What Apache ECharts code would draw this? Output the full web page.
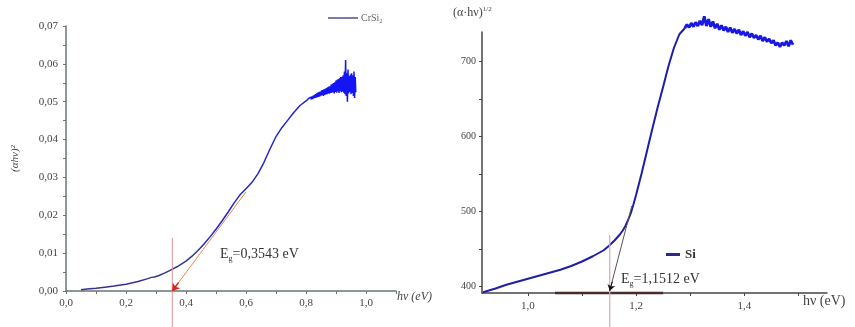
<!DOCTYPE html>
<html><head><meta charset="utf-8">
<script src="https://cdn.jsdelivr.net/npm/echarts@6/dist/echarts.min.js"></script>
<style>html,body{margin:0;padding:0;background:#fff}#c{width:855px;height:327px}</style>
</head><body><div id="c"></div>
<script>
// ---- CrSi2 (left panel) ----
const crsiX = [0.05,0.07,0.10,0.13,0.16,0.20,0.24,0.27,0.285,0.29,0.295,0.31,0.33,0.35,0.37,0.40,0.42,0.44,0.46,0.48,0.50,0.52,0.54,0.56,0.58,0.60,0.62,0.64,0.66,0.68,0.70,0.72,0.74,0.76,0.78,
0.800,0.802,0.804,0.806,0.808,0.810,0.812,0.814,0.816,0.818,0.820,0.822,0.824,0.826,0.828,0.830,0.832,0.834,0.836,0.838,0.840,0.842,0.844,0.846,0.848,0.850,0.852,0.854,0.856,0.858,0.860,0.862,0.864,0.866,0.868,0.870,0.872,0.874,0.876,0.878,0.880,0.882,0.884,0.886,0.888,0.890,0.892,0.894,0.896,0.898,0.900,0.902,0.904,0.906,0.908,0.910,0.912,0.914,0.916,0.918,0.920,0.922,0.924,0.926,0.928,0.930,0.932,0.934,0.936,0.938,0.940,0.942,0.944,0.946,0.948,0.950,0.952,0.954,0.956,0.958,0.960,0.962,0.964,0.966];
const crsiY = [0.0003,0.0005,0.0007,0.0010,0.0013,0.0018,0.0025,0.0032,0.0036,0.0040,0.0037,0.0041,0.0048,0.0056,0.0064,0.0079,0.0092,0.0107,0.0124,0.0143,0.0163,0.0185,0.0208,0.0232,0.0254,0.0270,0.0287,0.0310,0.0340,0.0375,0.0408,0.0432,0.0452,0.0472,0.0490,
0.0502,0.0498,0.0506,0.0501,0.0508,0.0503,0.0510,0.0504,0.0512,0.0506,0.0514,0.0507,0.0516,0.0509,0.0518,0.0510,0.0520,0.0511,0.0522,0.0512,0.0524,0.0513,0.0526,0.0514,0.0527,0.0516,0.0530,0.0517,0.0531,0.0515,0.0533,0.0518,0.0534,0.0519,0.0536,0.0520,0.0538,0.0522,0.0540,0.0521,0.0541,0.0523,0.0545,0.0524,0.0547,0.0525,0.0549,0.0522,0.0551,0.0526,0.0556,0.0524,0.0558,0.0527,0.0560,0.0523,0.0562,0.0528,0.0565,0.0525,0.0566,0.0527,0.0570,0.0524,0.0580,0.0520,0.0610,0.0515,0.0575,0.0500,0.0585,0.0522,0.0568,0.0526,0.0572,0.0520,0.0575,0.0523,0.0570,0.0515,0.0580,0.0510,0.0565,0.0525];
const egLeft = 0.3543;
const tangentLeftX = [0.3543, 0.60];
const tangentLeftY = [0.0, 0.0262];
const vlineLeftY = [-0.0095, 0.014];
const leftXTicks = [0,0.1,0.2,0.3,0.4,0.5,0.6,0.7,0.8,0.9,1.0,1.1];
const leftXLabels = [0,0.2,0.4,0.6,0.8,1.0];
const leftYTicks = [0,0.005,0.01,0.015,0.02,0.025,0.03,0.035,0.04,0.045,0.05,0.055,0.06,0.065,0.07];
const leftYLabels = [0,0.01,0.02,0.03,0.04,0.05,0.06,0.07];

// ---- Si (right panel) ----
const siSmoothX = [0.917,0.94,0.96,0.98,1.00,1.02,1.04,1.06,1.08,1.10,1.12,1.14,1.15,1.16,1.17,1.175,1.18,1.185,1.19,1.195,1.20,1.21,1.22,1.23,1.24,1.25,1.26,1.27,1.28,1.29];
const siSmoothY = [392,397,402,406,410,414,418,422,427,433,440,448,454,461,469,474,480,488,497,509,522,550,580,610,639,666,694,718,736,744];
const siNoisyX = [1.290,1.294,1.298,1.302,1.306,1.310,1.314,1.318,1.322,1.326,1.330,1.334,1.338,1.342,1.346,1.350,1.354,1.358,1.362,1.366,1.370,1.374,1.378,1.382,1.386,1.390,1.394,1.398,1.402,1.406,1.410,1.414,1.418,1.422,1.426,1.430,1.434,1.438,1.442,1.446,1.450,1.454,1.458,1.462,1.466,1.470,1.474,1.478,1.482,1.486,1.490];
const siNoisyY = [744,749,745,751,746,752,747,754,748,760,747,756,746,753,744,750,742,748,741,746,739,745,738,743,737,742,735,740,734,739,732,737,731,735,729,734,727,732,726,730,724,728,721,725,719,725,721,727,720,728,722];
const egRight = 1.1512;
const tangentRightX = [1.1512, 1.192];
const tangentRightY = [394, 507];
const vlineRightY = [345, 468];
const baseSegX = [1.05, 1.25];
const baseSegY = [391, 391];
const rightXTicks = [1.0,1.1,1.2,1.3,1.4,1.5];
const rightXLabels = [1.0,1.2,1.4];
const rightYTicks = [400,450,500,550,600,650,700];
const rightYLabels = [400,500,600,700];

const zip = (a,b) => a.map((v,i)=>[v,b[i]]);
const serif = '"Liberation Serif", "DejaVu Serif", serif';
const comma = d => v => v.toFixed(d).replace('.', ',');

const chart = echarts.init(document.getElementById('c'));
chart.setOption({
  animation: false,
  backgroundColor: '#fff',
  grid: [
    {left: 66, top: 26, width: 330, height: 265},
    {left: 482, top: 32, width: 345, height: 261}
  ],
  xAxis: [
    {gridIndex:0, type:'value', min:0, max:1.1,
     axisLine:{show:true, onZero:false, lineStyle:{color:'#6a7474', width:1.5}},
     axisTick:{show:true, customValues:leftXTicks, length:3, lineStyle:{color:'#6a7474'}},
     axisLabel:{customValues:leftXLabels, formatter:comma(1), fontFamily:serif, fontSize:11, color:'#444', margin:7},
     splitLine:{show:false}},
    {gridIndex:1, type:'value', min:0.915, max:1.553,
     axisLine:{show:true, onZero:false, lineStyle:{color:'#444', width:1.5}},
     axisTick:{show:true, customValues:rightXTicks, length:3, lineStyle:{color:'#444'}},
     axisLabel:{customValues:rightXLabels, formatter:comma(1), fontFamily:serif, fontSize:11, color:'#444', margin:8},
     splitLine:{show:false}}
  ],
  yAxis: [
    {gridIndex:0, type:'value', min:0, max:0.07,
     name:'(αhν)²', nameLocation:'middle', nameGap:45, nameRotate:90,
     nameTextStyle:{fontFamily:serif, fontStyle:'italic', fontSize:11, color:'#444'},
     axisLine:{show:true, onZero:false, lineStyle:{color:'#6a7474', width:1.5}},
     axisTick:{show:true, customValues:leftYTicks, length:3, lineStyle:{color:'#6a7474'}},
     axisLabel:{customValues:leftYLabels, formatter:comma(2), fontFamily:serif, fontSize:11, color:'#444', margin:8},
     splitLine:{show:false}},
    {gridIndex:1, type:'value', min:391, max:739,
     axisLine:{show:true, onZero:false, lineStyle:{color:'#444', width:1.5}},
     axisTick:{show:true, customValues:rightYTicks, length:3, lineStyle:{color:'#444'}},
     axisLabel:{customValues:rightYLabels, fontFamily:serif, fontSize:10, color:'#444', margin:6},
     splitLine:{show:false}}
  ],
  visualMap: [
    {type:'piecewise', show:false, seriesIndex:0, dimension:0,
     pieces:[{lt:0.45, color:'#34348c'},{gte:0.45, lt:0.8, color:'#2626c4'},{gte:0.8, color:'#1414f4'}]}
  ],
  legend: [
    {left:323, top:8, itemWidth:30, itemHeight:2, icon:'rect', itemGap:3,
     data:[{name:'CrSi₂', itemStyle:{color:'#7a7ab0'}}],
     textStyle:{fontFamily:serif, fontSize:10, color:'#666', padding:[0,0,0,-2]}},
    {left:661, top:243, itemWidth:14, itemHeight:3, icon:'rect', itemGap:3,
     data:[{name:'Si', itemStyle:{color:'#2a2a8a'}}],
     textStyle:{fontFamily:serif, fontSize:13, fontWeight:'bold', color:'#333'}}
  ],
  series: [
    {name:'CrSi₂', type:'line', xAxisIndex:0, yAxisIndex:0, data:zip(crsiX, crsiY),
     showSymbol:false, lineStyle:{width:1.5}},
    {type:'line', xAxisIndex:0, yAxisIndex:0, data:zip([egLeft, egLeft], vlineLeftY), clip:false,
     showSymbol:false, lineStyle:{color:'#d89494', width:1}},
    {type:'line', xAxisIndex:0, yAxisIndex:0, data:zip(tangentLeftX, tangentLeftY),
     showSymbol:false, lineStyle:{color:'#e08a4a', width:1}},
    {type:'line', xAxisIndex:0, yAxisIndex:0, data:zip(tangentLeftX, tangentLeftY), silent:true,
     showSymbol:false, lineStyle:{opacity:0},
     markLine:{silent:true, symbol:['none','arrow'], symbolSize:7, label:{show:false},
       lineStyle:{color:'#e02020', width:1.5, type:'solid'},
       data:[[{coord:[0.375, 0.0022]},{coord:[tangentLeftX[0], tangentLeftY[0]]}]]}},
    {type:'line', xAxisIndex:1, yAxisIndex:1, data:zip(baseSegX, baseSegY), clip:false,
     showSymbol:false, lineStyle:{color:'#4a2a2a', width:2.5}},
    {name:'Si', type:'line', xAxisIndex:1, yAxisIndex:1, data:zip(siSmoothX, siSmoothY), clip:false,
     showSymbol:false, lineStyle:{width:2, color:'#1e1ea6'}},
    {name:'Si', type:'line', xAxisIndex:1, yAxisIndex:1, data:zip(siNoisyX, siNoisyY), clip:false,
     showSymbol:false, lineStyle:{width:2.8, color:'#1818e0'}},
    {type:'line', xAxisIndex:1, yAxisIndex:1, data:zip([egRight, egRight], vlineRightY), clip:false,
     showSymbol:false, lineStyle:{color:'#d8aaaa', width:1.2}},
    {type:'line', xAxisIndex:1, yAxisIndex:1, data:zip(tangentRightX, tangentRightY),
     showSymbol:false, lineStyle:{color:'#555', width:1},
     markLine:{silent:true, symbol:['none','arrow'], symbolSize:6, label:{show:false},
       lineStyle:{color:'#111', width:1, type:'solid'},
       data:[[{coord:[1.156, 406]},{coord:[tangentRightX[0], tangentRightY[0]]}]]}}
  ],
  graphic: [
    {type:'text', left:397, top:291, style:{text:'hν (eV)', font:'italic 12px ' + serif, fill:'#444'}},
    {type:'text', left:803, top:294, style:{text:'hν (eV)', font:'14px ' + serif, fill:'#444'}},
    {type:'text', left:453, top:6, style:{
      text:'{a|(α·hν)}{s|1/2}', rich:{a:{fontFamily:serif, fontSize:12, fill:'#444'}, s:{fontFamily:serif, fontSize:7, fill:'#444', padding:[0,0,7,0]}}}},
    {type:'text', left:220, top:247, style:{
      text:'{a|E}{s|g}{a|=0,3543 eV}', rich:{a:{fontFamily:serif, fontSize:14, fill:'#333'}, s:{fontFamily:serif, fontSize:8, fill:'#333', padding:[9,0,0,0]}}}},
    {type:'text', left:621, top:272, style:{
      text:'{a|E}{s|g}{a|=1,1512 eV}', rich:{a:{fontFamily:serif, fontSize:14, fill:'#333'}, s:{fontFamily:serif, fontSize:8, fill:'#333', padding:[9,0,0,0]}}}}
  ]
});
</script></body></html>
